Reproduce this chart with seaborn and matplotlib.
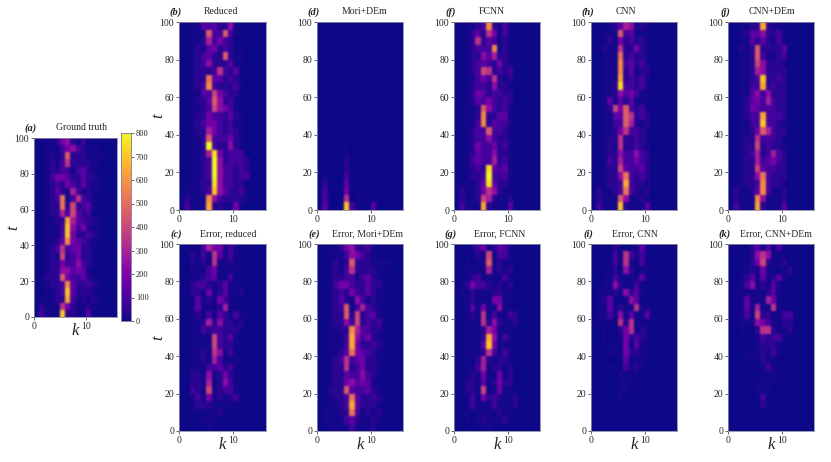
import numpy as np
import seaborn as sns
import matplotlib.pyplot as plt

sns.set_style("white")
plt.rcParams["font.family"] = ["Liberation Serif", "DejaVu Serif"]

W, H = 831, 462

k_ticks = [0, 10]
t_ticks = [0, 20, 40, 60, 80, 100]
cbar_ticks = [0, 100, 200, 300, 400, 500, 600, 700, 800]

# value of each character used in the rows below (0-9, a-g)
levels = [0, 12, 40, 85, 130, 180, 235, 290, 345, 400, 460, 520, 580, 640, 700, 750, 800]

# each string is one row of the field, t = 96 at the top down to t = 0
# one character per k, missing k on the right are 0
ground_truth = [
    "0011256213", "0011135632111", "001212a2221111", "0012138222211", "001223313421",
    "0013554224221", "0012325324211", "0012421731211", "00123b138321", "00122b292341",
    "00122739423", "001122d743221", "001113e635211", "001113e522321", "001124c543211",
    "001238345221", "001219235221", "001225336321", "00122664541", "00222a533421",
    "001223c422321", "001123e42221", "011122d312121", "021118521121", "03111e22114",
]
reduced = [
    "00114342261", "00111a33a31", "0011273532", "001214523211", "00123422a211",
    "001236222411", "00122238324", "00122b44232", "00123c322231", "00114395322",
    "001224a6231", "00112396531", "001225332421", "001235532311", "001227532321",
    "00112a333521", "00112g322621", "001127f52333", "001123g623332", "001123g633232",
    "001123g633233", "001122f63322", "011123e642231", "02111c6322221", "03111d22115",
]
error_reduced = [
    "01013755131", "00213184131", "002121811211", "00111351111", "00112341130",
    "01233212411", "012215124112", "0014121531", "00141112711", "0012131421311",
    "001127262212", "001132332221", "00111193241", "00111193221", "00112186131",
    "00112173111", "00111334231", "00221612521", "00221712631", "00321912331",
    "00131512123", "00122211111", "00100112", "0000111", "000001",
]
mori_dem = [
    "0", "0", "0", "0", "0", "0", "0", "0", "0", "0", "0", "0", "0", "0", "0", "0",
    "000001", "000001", "000002", "000002", "010003", "020004", "03000501", "0300080101", "04000e3100400",
]
error_mori_dem = [
    "00112562231", "00111365321", "001212a2221111", "0012138222211", "001223313421",
    "0013553224221", "0012325324211", "0012421631211", "00123a137321", "00122a292341",
    "001226392323", "001122c743221", "001113d635211", "001113d522321", "001124b543211",
    "001238345221", "001228235221", "001224336321", "00122564541", "00222a433421",
    "001223b422321", "001123d42221", "011122b312121", "011113421121", "00111131112",
]
fcnn = [
    "001123c2131", "00124285131", "00128243121", "0012333c121", "00122647221",
    "00123432521", "00123982323", "00113538212", "00123326221", "00125423322",
    "00124353232", "00112a63231", "00112c22441", "00113c24331", "001233a3321",
    "00123363221", "00125335231", "00124336221", "00134337231", "001232f4341",
    "001223g3331", "011124f4221", "02112586211", "02112972112", "03111d21114",
]
error_fcnn = [
    "01013512431", "00102191331", "001011a1211", "00111171212", "00123111131",
    "01253321212", "01121112211", "00121115511", "00141511611", "001218131132",
    "001118262112", "00111275111", "001012d6131", "001114e5111", "00111283131",
    "00102721221", "00113712212", "00121511512", "00221412522", "00221911511",
    "001315232112", "001311131112", "00101111211", "00101211120", "00000110",
]
cnn = [
    "00012476121", "00111a34111", "00121523221", "00211822521", "00111b23221",
    "00111c34231", "00111c24122", "00111d23231", "00112f33231", "00112645311",
    "00141424111", "001295a3231", "001144a8232", "001133a7212", "00112583321",
    "00122822321", "00121822321", "00122633632", "00132733532", "00122943342",
    "001226b3232", "011223d3221", "021123b3212", "02111a61121", "03111e21114",
]
error_cnn = [
    "01102100141", "00003083131", "00013081030", "00012062011", "00113111141",
    "00116211310", "01112162410", "0124001640", "01141211811", "01131614114",
    "01010828111", "00100258121", "00100152321", "00101151411", "00011052211",
    "00100041110", "00011031210", "0000011110", "00000110", "00000110101",
    "000001", "0", "0", "0", "0",
]
cnn_dem = [
    "001122d2111", "00124462231", "00114242131", "00212a22224", "00112a31123",
    "00112962221", "00112762222", "001123e2232", "001133d2322", "00114636222",
    "00124537322", "00125433322", "001233d3332", "001133e3321", "001125a7322",
    "00122833321", "00122923221", "00123723732", "00122734532", "00122943322",
    "001226b3222", "011223c3221", "021124c3112", "02111c61112", "03111d21114",
]
error_cnn_dem = [
    "01002414031", "00002686111", "00012592112", "000121511012", "00124141241",
    "00136121410", "01111112410", "01141117510", "01141711811", "0113192211331",
    "001116531122", "001002882112", "00100132331", "0000012221", "0001112131",
    "000010211", "0000101311", "000000111", "0000011101", "00000111",
    "0000003", "0000002", "0", "0", "0",
]


def to_field(rows):
    return np.array([[levels[int(c, 17)] for c in r.ljust(16, "0")] for r in rows])


def pixel_axes(x0, y0, x1, y1):
    return fig.add_axes([x0 / W, 1 - y1 / H, (x1 - x0) / W, (y1 - y0) / H])


def soften(img, dpi):
    # the reference is a downscaled picture, so the cell edges are not crisp
    kernel = np.array([1, 4, 6, 4, 1]) / 16
    out = np.pad(img, ((2, 2), (2, 2), (0, 0)), mode="edge")
    out = np.apply_along_axis(np.convolve, 0, out, kernel, mode="valid")
    out = np.apply_along_axis(np.convolve, 1, out, kernel, mode="valid")
    return out, 0, 0


def draw_panel(rows, box, tag, title, title_x, ylabel=False, xlabel=False, cbar_ax=None):
    ax = pixel_axes(*box)
    sns.heatmap(to_field(rows), ax=ax, cmap="plasma", vmin=0, vmax=800,
                cbar=cbar_ax is not None, cbar_ax=cbar_ax,
                xticklabels=False, yticklabels=False)
    ax.collections[0].set_agg_filter(soften)
    ax.set_xticks(k_ticks)
    ax.set_xticklabels(k_ticks, rotation=0)
    ax.set_yticks([(100 - t) / 4 for t in t_ticks])
    ax.set_yticklabels(t_ticks, rotation=0)
    ax.tick_params(length=2, width=0.5, labelsize=7, pad=1.5, left=True, bottom=True)
    for s in ax.spines.values():
        s.set_visible(True)
        s.set_linewidth(0.6)
        s.set_color("#8a8aa0")

    x0, y0, x1, y1 = box
    fig.text(title_x / W, 1 - (y0 - 10) / H, title, ha="center", va="center", fontsize=7)
    fig.text((x0 - 3) / W, 1 - (y0 - 10) / H, tag, ha="center", va="center",
             fontsize=7.5, fontweight="bold", fontstyle="italic")
    if ylabel:
        fig.text((x0 - 21) / W, 1 - (y0 + y1) / 2 / H, "t", ha="center", va="center",
                 rotation=90, fontsize=12, fontstyle="italic")
    if xlabel:
        fig.text((x0 + x1) / 2 / W, 1 - (y1 + 14) / H, "k", ha="center", va="center",
                 fontsize=12, fontstyle="italic")
    return ax


fig = plt.figure(figsize=(W / 100, H / 100), dpi=100)

cax = pixel_axes(121, 133, 131, 321)
draw_panel(ground_truth, (34, 138, 117, 317), "(a)", "Ground truth", 82,
           ylabel=True, xlabel=True, cbar_ax=cax)
cax.set_yticks(cbar_ticks)
cax.set_yticklabels(cbar_ticks)
cax.tick_params(length=2, width=0.5, labelsize=6, pad=1.5, right=True)
for s in cax.spines.values():
    s.set_visible(True)
    s.set_linewidth(0.6)
    s.set_color("#8a8aa0")

top_y = (22, 210)
bottom_y = (244, 431)

draw_panel(reduced, (179, top_y[0], 266, top_y[1]), "(b)", "Reduced", 221, ylabel=True)
draw_panel(error_reduced, (179, bottom_y[0], 266, bottom_y[1]), "(c)", "Error, reduced", 228, ylabel=True, xlabel=True)
draw_panel(mori_dem, (317, top_y[0], 403, top_y[1]), "(d)", "Mori+DEm", 365)
draw_panel(error_mori_dem, (317, bottom_y[0], 403, bottom_y[1]), "(e)", "Error, Mori+DEm", 367, xlabel=True)
draw_panel(fcnn, (454, top_y[0], 540, top_y[1]), "(f)", "FCNN", 492)
draw_panel(error_fcnn, (454, bottom_y[0], 540, bottom_y[1]), "(g)", "Error, FCNN", 500, xlabel=True)
draw_panel(cnn, (591, top_y[0], 677, top_y[1]), "(h)", "CNN", 626)
draw_panel(error_cnn, (591, bottom_y[0], 677, bottom_y[1]), "(i)", "Error, CNN", 635, xlabel=True)
draw_panel(cnn_dem, (728, top_y[0], 814, top_y[1]), "(j)", "CNN+DEm", 772)
draw_panel(error_cnn_dem, (728, bottom_y[0], 814, bottom_y[1]), "(k)", "Error, CNN+DEm", 776, xlabel=True)

fig.savefig("out.png", dpi=100)
